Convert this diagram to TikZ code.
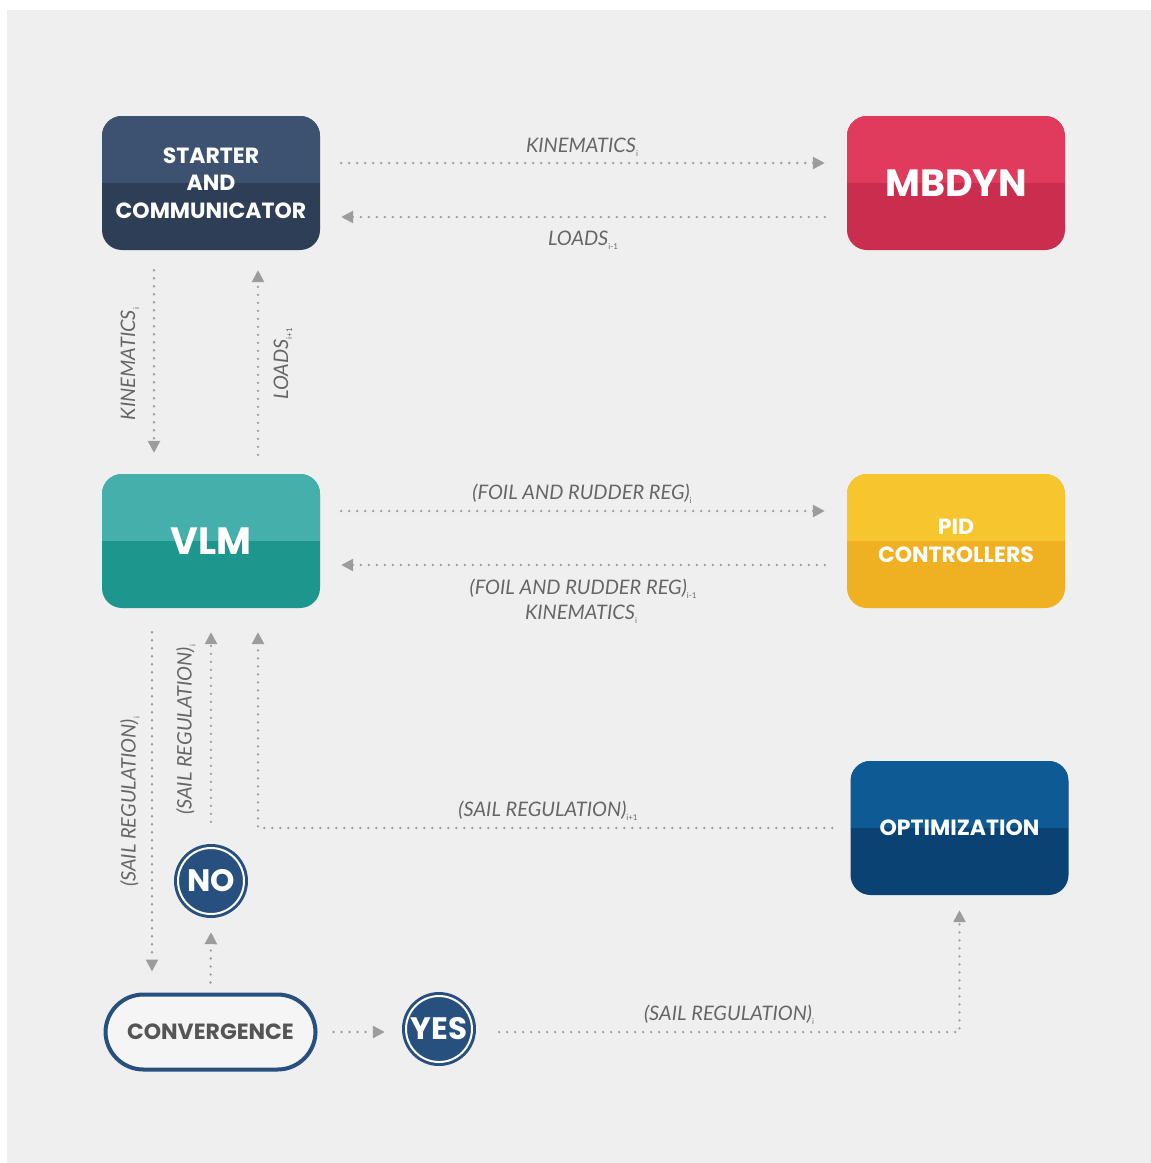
\documentclass[tikz,border=0pt]{standalone}
\usepackage{fontspec}
\setmainfont{Poppins}
\newfontfamily\labfont{Lato}
\usetikzlibrary{arrows.meta}
\definecolor{bgc}{HTML}{EFEFEF}
\definecolor{conncol}{HTML}{9C9C9C}
\definecolor{labcol}{HTML}{666666}
\definecolor{stTop}{HTML}{3D5170}
\definecolor{stBot}{HTML}{2F3E57}
\definecolor{mbTop}{HTML}{E03A5C}
\definecolor{mbBot}{HTML}{CB2D4F}
\definecolor{vlTop}{HTML}{45AFAB}
\definecolor{vlBot}{HTML}{1D978D}
\definecolor{pdTop}{HTML}{F7C52E}
\definecolor{pdBot}{HTML}{EFB021}
\definecolor{opTop}{HTML}{0D5A94}
\definecolor{opBot}{HTML}{0A4373}
\definecolor{navy}{HTML}{27507F}
\definecolor{convtxt}{HTML}{555555}
\newcommand\sbx[1]{\raisebox{-4pt}{\fontsize{8}{8}\selectfont\upshape #1}}
\tikzset{
  twotone/.style n args={2}{rectangle, rounded corners=20pt, minimum width=218pt, minimum height=134pt,
    fill=#2, inner sep=0pt, text=white, align=center,
    path picture={\fill[#1, sharp corners] (path picture bounding box.north west) rectangle (path picture bounding box.east);}},
  boxtext/.style={font=\bfseries\fontsize{22}{27.5}\selectfont},
  bigtext/.style={font=\bfseries\fontsize{38}{42}\selectfont},
  conn/.style={draw=conncol, line width=2.6pt, line cap=round, dash pattern=on 0pt off 8pt,
    -{Triangle[length=12pt,width=12pt]}},
  lab/.style={text=labcol, font=\labfont\itshape\fontsize{20}{24}\selectfont, inner sep=0pt},
  yesno/.style={circle, minimum size=74pt, fill=navy, text=white, inner sep=0pt,
    font=\bfseries\fontsize{31}{34}\selectfont,
    path picture={\draw[white, line width=2pt] (path picture bounding box.center) circle (33pt);}},
}
\begin{document}
\begin{tikzpicture}[x=1pt,y=-1pt]
\useasboundingbox (0,0) rectangle (1151,1163);
\fill[white] (0,0) rectangle (1151,1163);
\fill[bgc] (7,10) rectangle (1151,1163);

% boxes
\node[twotone={stTop}{stBot}, boxtext] (start) at (211,183) {STARTER\\AND\\COMMUNICATOR};
\node[twotone={mbTop}{mbBot}, bigtext] (mbdyn) at (956,183) {MBDYN};
\node[twotone={vlTop}{vlBot}, bigtext] (vlm) at (211,541) {VLM};
\node[twotone={pdTop}{pdBot}, boxtext] (pid) at (956,541) {PID\\CONTROLLERS};
\node[twotone={opTop}{opBot}, boxtext] (opt) at (959.5,828) {OPTIMIZATION};
\node[rectangle, rounded corners=38pt, minimum width=210pt, minimum height=75pt, draw=navy,
  line width=4pt, fill=white!35!bgc, text=convtxt, font=\bfseries\fontsize{22}{24}\selectfont] (conv) at (210.5,1032) {CONVERGENCE};
\node[yesno] (no) at (211,881) {NO};
\node[yesno] (yes) at (439,1029) {YES};

% connectors
\draw[conn] ([xshift=21pt,yshift=20pt]start.east) -- ([xshift=-22pt,yshift=20pt]mbdyn.west);
\draw[conn] ([xshift=-22pt,yshift=-34pt]mbdyn.west) -- ([xshift=21pt,yshift=-34pt]start.east);
\draw[conn] ([xshift=-57pt,yshift=-20pt]start.south) -- ([xshift=-57pt,yshift=21pt]vlm.north);
\draw[conn] ([xshift=47pt,yshift=19pt]vlm.north) -- ([xshift=47pt,yshift=-20pt]start.south);
\draw[conn] ([xshift=21pt,yshift=30pt]vlm.east) -- ([xshift=-22pt,yshift=30pt]pid.west);
\draw[conn] ([xshift=-22pt,yshift=-24pt]pid.west) -- ([xshift=21pt,yshift=-24pt]vlm.east);
\draw[conn] ([xshift=-59pt,yshift=-24pt]vlm.south) -- ([xshift=-58.5pt,yshift=21pt]conv.north);
\draw[conn] ([yshift=22pt]no.north) -- ([yshift=-24pt]vlm.south);
\draw[conn] ([yshift=10pt]conv.north) -- ([yshift=-14pt]no.south);
\draw[conn] ([xshift=-18pt]opt.west) -| ([xshift=47pt,yshift=-24pt]vlm.south);
\draw[conn] ([xshift=16pt]conv.east) -- ([xshift=-17pt,yshift=-3pt]yes.west);
\draw[conn] ([xshift=23pt,yshift=-3pt]yes.east) -| ([yshift=-15pt]opt.south);

% labels
\node[lab] (l1) at (582,147) {KINEMATICS\sbx{i}};
\node[lab] (l2) at (583,240) {LOADS\sbx{i-1}};
\node[lab, rotate=90] (l3) at (130,364) {KINEMATICS\sbx{i}};
\node[lab, rotate=90] (l4) at (283,364) {LOADS\sbx{i+1}};
\node[lab] (l5) at (582,494) {(FOIL AND RUDDER REG)\sbx{i}};
\node[lab] (l6) at (583,589) {(FOIL AND RUDDER REG)\sbx{i-1}};
\node[lab] (l7) at (581,614) {KINEMATICS\sbx{i}};
\node[lab, rotate=90] (l8) at (130,802) {(SAIL REGULATION)\sbx{i}};
\node[lab, rotate=90] (l9) at (186,730) {(SAIL REGULATION)\sbx{i}};
\node[lab] (l10) at (548,811) {(SAIL REGULATION)\sbx{i+1}};
\node[lab] (l11) at (729,1015) {(SAIL REGULATION)\sbx{i}};
\end{tikzpicture}
\end{document}
